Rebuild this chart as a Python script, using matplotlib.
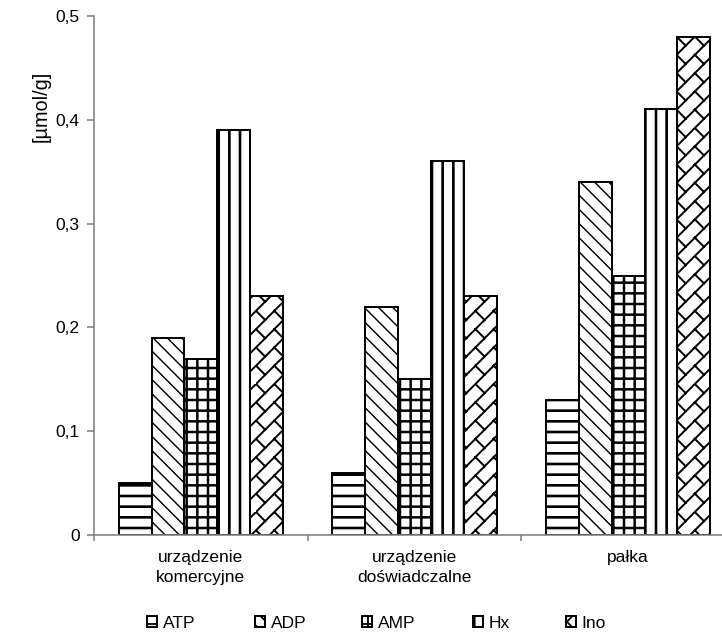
import warnings
import numpy as np
import matplotlib
matplotlib.use('Agg')
import matplotlib.pyplot as plt
import matplotlib.hatch as mhatch
from matplotlib.path import Path

warnings.filterwarnings('ignore')

# Data
groups = ['urządzenie\nkomercyjne', 'urządzenie\ndoświadczalne', 'pałka']
series = ['ATP', 'ADP', 'AMP', 'Hx', 'Ino']
atp = [0.05, 0.06, 0.13]
adp = [0.19, 0.22, 0.34]
amp = [0.17, 0.15, 0.25]
hx = [0.39, 0.36, 0.41]
ino = [0.23, 0.23, 0.48]
yticks = [0, 0.1, 0.2, 0.3, 0.4, 0.5]
ytick_labels = ['0', '0,1', '0,2', '0,3', '0,4', '0,5']


class DiagonalBrickHatch(mhatch.HatchPatternBase):
    """'z' -> diagonal brick: '/' courses with offset '\\' joints."""

    def __init__(self, hatch, density):
        self.num_cells = int(hatch.count('z') * density * 7 / 6)
        self.num_vertices = self.num_cells ** 2 * 4

    def set_vertices_and_codes(self, vertices, codes):
        n = self.num_cells
        k = 0
        for i in range(n):
            for j in range(n):
                vertices[k] = (i / n, j / n)
                vertices[k + 1] = ((i + 1) / n, (j + 1) / n)
                vertices[k + 2] = (i / n, (j + 1) / n)
                vertices[k + 3] = ((i + 0.5) / n, (j + 0.5) / n)
                codes[k:k + 4] = [Path.MOVETO, Path.LINETO, Path.MOVETO, Path.LINETO]
                k += 4


mhatch._hatch_types.append(DiagonalBrickHatch)

plt.rcParams['font.family'] = ['Liberation Sans', 'DejaVu Sans']
plt.rcParams['hatch.color'] = 'black'

FS = 9.8
DPI = 128
fig = plt.figure(figsize=(722 / DPI, 634 / DPI), dpi=DPI)
ax = fig.add_axes([94 / 722, 1 - 535 / 634, 641 / 722, 519 / 634])

values = [atp, adp, amp, hx, ino]
hatches = ['--', '\\\\\\', '++', '||', 'z']
hatch_lw = [1.5, 0.8, 1.4, 1.5, 1.1]
w = 1 / 6.5
x = np.arange(len(groups))
for k, (vals, name) in enumerate(zip(values, series)):
    with plt.rc_context({'hatch.linewidth': hatch_lw[k]}):
        bars = ax.bar(x + (k - 2) * w, vals, width=w, facecolor='white',
                      edgecolor='black', linewidth=1.1, hatch=hatches[k],
                      label=name)
    for b in bars:
        if hasattr(b, 'set_hatch_linewidth'):
            b.set_hatch_linewidth(hatch_lw[k])

ax.set_xlim(-0.5, 2.5)
ax.set_ylim(0, 0.5)
ax.set_yticks(yticks)
ax.set_yticklabels(ytick_labels)
ax.set_xticks(x)
ax.set_xticklabels(groups, linespacing=1.4)
ax.set_xticks([-0.5, 0.5, 1.5, 2.5], minor=True)

for s in ['top', 'right']:
    ax.spines[s].set_visible(False)
for s in ['left', 'bottom']:
    ax.spines[s].set_color('#808080')
    ax.spines[s].set_linewidth(0.9)

ax.tick_params(axis='y', direction='out', length=4, width=0.9, color='#808080',
               labelsize=FS, pad=4)
ax.tick_params(axis='x', which='major', length=0, labelsize=FS, pad=8.5)
ax.tick_params(axis='x', which='minor', direction='out', length=3.5, width=0.9,
               color='#808080')

ax.set_ylabel('[µmol/g]', fontsize=11.2)
ax.yaxis.set_label_coords(-0.068, 0.825)

# legend entries spread along the bottom
legend_x = [147, 255, 362, 473, 566]
handles, labels = ax.get_legend_handles_labels()
for h, lab, lx in zip(handles, labels, legend_x):
    fig.legend([h], [lab], loc='center left',
               bbox_to_anchor=(lx / 722, 1 - 623 / 634), frameon=False,
               fontsize=FS, handlelength=0.6, handleheight=0.6,
               handletextpad=0.3, borderpad=0, borderaxespad=0)

fig.savefig('out.png', dpi=DPI)
